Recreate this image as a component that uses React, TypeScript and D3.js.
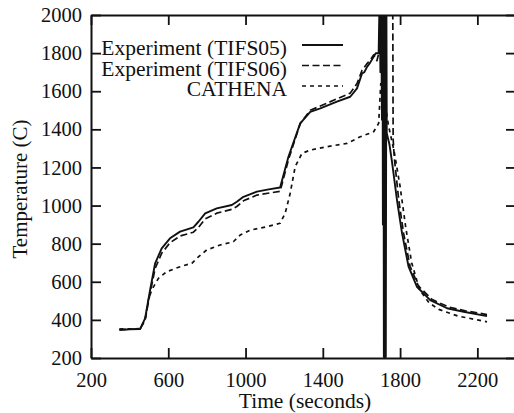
import React, { useEffect, useRef } from "react";
import * as d3 from "d3";

const xTicks = [200, 600, 1000, 1400, 1800, 2200];
const yTicks = [200, 400, 600, 800, 1000, 1200, 1400, 1600, 1800, 2000];
const seriesNames = ["Experiment (TIFS05)", "Experiment (TIFS06)", "CATHENA"];

// [time (s), temperature (C)]
const tifs05: [number, number][] = [
  [347, 347], [400, 350], [454, 352], [480, 408], [506, 557], [532, 697], [566, 775],
  [609, 828], [661, 863], [730, 886], [756, 915], [791, 959], [851, 985], [929, 1003],
  [955, 1020], [989, 1046], [1059, 1073], [1120, 1085], [1179, 1095], [1222, 1256],
  [1283, 1431], [1335, 1492], [1387, 1510], [1473, 1545], [1542, 1571], [1577, 1615],
  [1603, 1693], [1615, 1700], [1629, 1728], [1645, 1750], [1663, 1781], [1675, 1800],
  [1689, 1799],
  // thermocouple spikes
  [1694, 2100], [1698, 1700], [1702, 2100], [1706, 1450], [1709, 2100], [1711, 900],
  [1714, 2100], [1716, 205], [1719, 2100], [1721, 205], [1724, 2100], [1726, 205],
  [1729, 2100], [1731, 1380],
  [1745, 1320], [1758, 1230], [1784, 1029], [1810, 855], [1844, 679], [1887, 574],
  [1956, 504], [2043, 461], [2129, 443], [2250, 420],
];

const tifs06: [number, number][] = [
  [347, 350], [454, 352], [480, 400], [506, 540], [532, 670], [566, 750], [609, 805],
  [661, 840], [730, 860], [756, 885], [791, 930], [851, 960], [929, 980], [955, 995],
  [989, 1025], [1059, 1055], [1179, 1075], [1222, 1240], [1283, 1430], [1335, 1500],
  [1387, 1522], [1473, 1560], [1542, 1590], [1577, 1640], [1603, 1710], [1629, 1745],
  [1650, 1770], [1663, 1790], [1680, 1760], [1690, 1800], [1700, 2100], [1762, 2100],
  [1764, 1350], [1770, 1250], [1793, 1030], [1818, 855], [1852, 680], [1895, 578],
  [1964, 508], [2050, 468], [2137, 448], [2250, 428],
];

const cathena: [number, number][] = [
  [347, 352], [454, 354], [480, 399], [497, 504], [514, 557], [549, 618], [592, 653],
  [661, 679], [722, 697], [756, 731], [799, 767], [868, 793], [937, 810], [972, 845],
  [1024, 871], [1110, 889], [1179, 907], [1205, 959], [1231, 1064], [1257, 1204],
  [1292, 1274], [1335, 1291], [1421, 1309], [1525, 1326], [1594, 1361], [1663, 1387],
  [1689, 1431], [1700, 1640], [1715, 1580], [1740, 1420], [1770, 1280], [1800, 1100],
  [1830, 880], [1860, 700], [1900, 560], [1950, 490], [2000, 455], [2100, 420],
  [2200, 400], [2250, 390],
];

const FONT = "Liberation Serif, Times New Roman, Times, serif";

export default function App() {
  const chartRef = useRef<SVGSVGElement>(null);

  useEffect(() => {
    const svg = d3.select(chartRef.current);
    svg.selectAll("*").remove();

    const left = 91, right = 516, top = 15, bottom = 358;
    const x = d3.scaleLinear().domain([200, 2400]).range([left, right]);
    const y = d3.scaleLinear().domain([200, 2000]).range([bottom, top]);
    const fmt = d3.format("d");

    svg.append("rect").attr("width", 514).attr("height", 413).attr("fill", "#fff");

    svg.append("defs").append("clipPath").attr("id", "plot")
      .append("rect").attr("x", left).attr("y", top)
      .attr("width", right - left).attr("height", bottom - top);

    const styleAxis = (g: any) => {
      g.attr("font-family", null).attr("font-size", null);
      g.selectAll("path").attr("stroke", "#111").attr("stroke-width", 2);
      g.selectAll("line").attr("stroke", "#111").attr("stroke-width", 1.8);
      g.selectAll("text").style("font-family", FONT).style("font-size", "20.5px").attr("fill", "#111");
    };

    svg.append("g").attr("transform", `translate(0,${bottom})`)
      .call(d3.axisBottom(x).tickValues(xTicks).tickFormat(fmt as any).tickSize(-10).tickSizeOuter(0).tickPadding(14) as any)
      .call(styleAxis);
    svg.append("g").attr("transform", `translate(0,${top})`)
      .call(d3.axisTop(x).tickValues(xTicks).tickSize(-10).tickSizeOuter(0).tickFormat(() => "") as any)
      .call(styleAxis);
    svg.append("g").attr("transform", `translate(${left},0)`)
      .call(d3.axisLeft(y).tickValues(yTicks).tickFormat(fmt as any).tickSize(-10).tickSizeOuter(0).tickPadding(9) as any)
      .call(styleAxis);
    svg.append("g").attr("transform", `translate(${right},0)`)
      .call(d3.axisRight(y).tickValues(yTicks).tickSize(-10).tickSizeOuter(0).tickFormat(() => "") as any)
      .call(styleAxis);

    const line = d3.line<[number, number]>().x(d => x(d[0])).y(d => y(d[1]));
    const styles = [
      { data: tifs05, dash: null, width: 1.9 },
      { data: tifs06, dash: "7,3.5", width: 1.7 },
      { data: cathena, dash: "4,4", width: 1.7 },
    ];

    const plot = svg.append("g").attr("clip-path", "url(#plot)");
    styles.forEach(s => {
      plot.append("path")
        .attr("d", line(s.data))
        .attr("fill", "none")
        .attr("stroke", "#111")
        .attr("stroke-width", s.width)
        .attr("stroke-linejoin", "round")
        .attr("stroke-dasharray", s.dash);
    });

    // legend
    const legend = svg.append("g");
    seriesNames.forEach((name, i) => {
      const base = 55 + i * 20.5;
      legend.append("text")
        .attr("x", 287).attr("y", base)
        .attr("text-anchor", "end")
        .style("font-family", FONT).style("font-size", "21.5px").attr("fill", "#111")
        .text(name);
      legend.append("line")
        .attr("x1", 302).attr("x2", 343)
        .attr("y1", base - 10).attr("y2", base - 10)
        .attr("stroke", "#111")
        .attr("stroke-width", styles[i].width)
        .attr("stroke-dasharray", styles[i].dash);
    });

    svg.append("text")
      .attr("x", 305).attr("y", 408)
      .attr("text-anchor", "middle")
      .style("font-family", FONT).style("font-size", "21.5px").attr("fill", "#111")
      .text("Time (seconds)");
    svg.append("text")
      .attr("transform", "translate(27,189) rotate(-90)")
      .attr("text-anchor", "middle")
      .style("font-family", FONT).style("font-size", "21px").attr("fill", "#111")
      .text("Temperature (C)");
  }, []);

  return (
    <svg ref={chartRef} width={514} height={413}
      style={{ position: "absolute", left: 0, top: 0, display: "block" }} />
  );
}
